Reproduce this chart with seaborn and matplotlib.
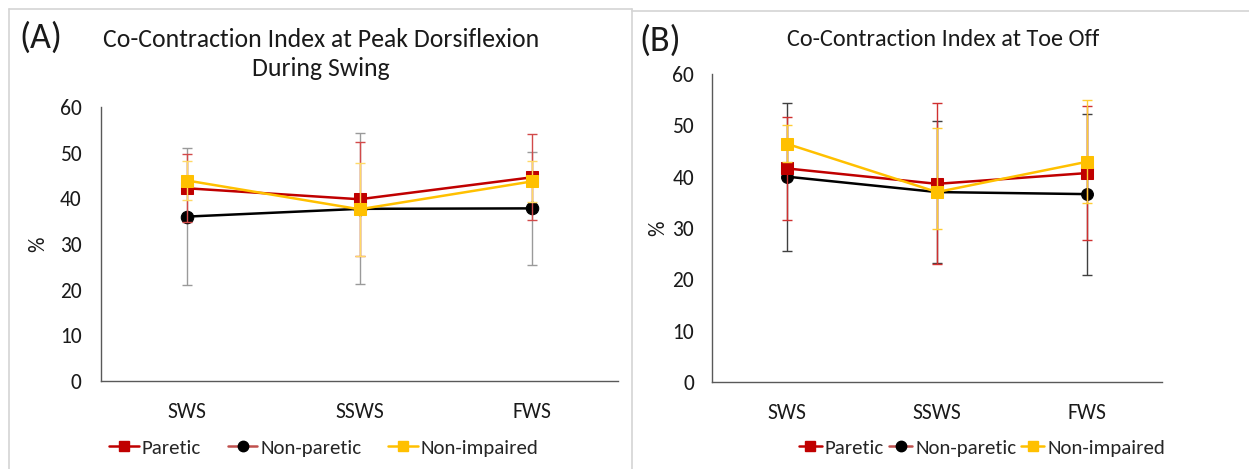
import matplotlib
matplotlib.use("Agg")
import matplotlib.pyplot as plt
from matplotlib.lines import Line2D
from matplotlib import font_manager
import seaborn as sns

# ---------------- data ----------------
categories = ["SWS", "SSWS", "FWS"]
series_names = ["Paretic", "Non-paretic", "Non-impaired"]

# Panel A: Co-Contraction Index at Peak Dorsiflexion During Swing
a_paretic = [42.2, 39.8, 44.6]
a_paretic_err = [7.4, 12.5, 9.4]
a_nonparetic = [36.0, 37.7, 37.8]
a_nonparetic_err = [15.0, 16.5, 12.3]
a_nonimpaired = [43.9, 37.6, 43.7]
a_nonimpaired_err = [4.2, 10.2, 4.5]

# Panel B: Co-Contraction Index at Toe Off
b_paretic = [41.6, 38.6, 40.7]
b_paretic_err = [10.0, 15.7, 13.0]
b_nonparetic = [40.0, 37.0, 36.6]
b_nonparetic_err = [14.4, 13.8, 15.7]
b_nonimpaired = [46.4, 37.0, 42.9]
b_nonimpaired_err_low = [3.6, 7.2, 8.1]
b_nonimpaired_err_high = [3.6, 12.5, 12.0]

yticks = [0, 10, 20, 30, 40, 50, 60]

# ---------------- style ----------------
sns.set_style("white")
avail = {f.name for f in font_manager.fontManager.ttflist}
fam = "Carlito" if "Carlito" in avail else "Lato"
plt.rcParams["font.family"] = [fam, "DejaVu Sans"]

RED = "#C00000"
BLACK = "#000000"
YELLOW = "#FFC000"
AXCOL = "#595959"
TXT = "#1a1a1a"
TICK_FS = 15.5

W, H = 1249, 469
fig = plt.figure(figsize=(W / 100, H / 100), dpi=100)
fig.patch.set_facecolor("white")


def fx(px):
    return px / W


def fy(py):
    return 1 - py / H


# panel frames
frame_col = "#d4d4d4"
fig.add_artist(Line2D([fx(9), fx(632)], [fy(9), fy(9)], color=frame_col, lw=1.2))
fig.add_artist(Line2D([fx(9), fx(9)], [fy(9), fy(470)], color=frame_col, lw=1.2))
fig.add_artist(Line2D([fx(632), fx(632)], [fy(9), fy(470)], color=frame_col, lw=1.2))
fig.add_artist(Line2D([fx(632), fx(1250)], [fy(11), fy(11)], color=frame_col, lw=1.2))

axA = fig.add_axes([fx(101), fy(381), fx(618) - fx(101), fy(107) - fy(381)])
axB = fig.add_axes([fx(712), fy(382), fx(1162) - fx(712), fy(74) - fy(382)])


def draw_panel(ax, data, ypad, xpad):
    xs = list(range(len(categories)))
    for (vals, lo, hi, color, marker, ms, ecol, z) in data:
        ax.errorbar(xs, vals, yerr=[lo, hi], fmt="none", ecolor=ecol,
                    elinewidth=1.0, capsize=3.5, capthick=1.0, zorder=z - 1)
    for (vals, lo, hi, color, marker, ms, ecol, z) in data:
        sns.lineplot(x=categories, y=vals, ax=ax, color=color, marker=marker,
                     markersize=ms, markeredgecolor=color, markerfacecolor=color,
                     linewidth=1.8, zorder=z, legend=False, sort=False)
    ax.set_xlim(-0.5, len(categories) - 0.5)
    ax.set_ylim(0, 60)
    ax.set_yticks(yticks)
    ax.set_yticklabels([str(t) for t in yticks])
    ax.tick_params(axis="y", length=0, pad=ypad, labelsize=TICK_FS, colors=TXT)
    ax.tick_params(axis="x", length=0, pad=xpad, labelsize=TICK_FS, colors=TXT)
    for s in ["top", "right"]:
        ax.spines[s].set_visible(False)
    for s in ["left", "bottom"]:
        ax.spines[s].set_color(AXCOL)
        ax.spines[s].set_linewidth(1.0)
    ax.set_xlabel("")
    ax.set_ylabel("%", fontsize=TICK_FS, color=TXT)
    ax.grid(False)
    ax.set_facecolor("white")


dataA = [
    (a_nonparetic, a_nonparetic_err, a_nonparetic_err, BLACK, "o", 9, "#9a9a9a", 4),
    (a_paretic, a_paretic_err, a_paretic_err, RED, "s", 8, "#d24a4a", 6),
    (a_nonimpaired, a_nonimpaired_err, a_nonimpaired_err, YELLOW, "s", 8, "#ffd966", 8),
]
dataB = [
    (b_nonparetic, b_nonparetic_err, b_nonparetic_err, BLACK, "o", 8.5, "#404040", 4),
    (b_paretic, b_paretic_err, b_paretic_err, RED, "s", 8, "#d03030", 6),
    (b_nonimpaired, b_nonimpaired_err_low, b_nonimpaired_err_high, YELLOW, "s", 8, "#ffcc33", 8),
]

draw_panel(axA, dataA, 14, 15)
draw_panel(axB, dataB, 13, 15)
axA.yaxis.set_label_coords((48 - 101) / 517, 0.5)
axB.yaxis.set_label_coords((668 - 712) / 450, 0.5)

# titles
fig.text(fx(19), fy(38), "(A)", fontsize=26, ha="left", va="center", color=TXT)
fig.text(fx(321), fy(54), "Co-Contraction Index at Peak Dorsiflexion\nDuring Swing",
         fontsize=18.5, ha="center", va="center", linespacing=1.35, color=TXT)
fig.text(fx(639), fy(41), "(B)", fontsize=26, ha="left", va="center", color=TXT)
fig.text(fx(943), fy(40), "Co-Contraction Index at Toe Off",
         fontsize=17.5, ha="center", va="center", color=TXT)

# legends
handles = [
    Line2D([], [], color=RED, marker="s", markersize=7.5, markerfacecolor=RED,
           markeredgecolor=RED, lw=1.8),
    Line2D([], [], color="#c0504d", marker="o", markersize=7.5, markerfacecolor=BLACK,
           markeredgecolor=BLACK, lw=1.8),
    Line2D([], [], color=YELLOW, marker="s", markersize=7.5, markerfacecolor=YELLOW,
           markeredgecolor=YELLOW, lw=1.8),
]
for cx, spacing, hl in [(324, 1.3, 1.4), (982, 0.25, 1.1)]:
    fig.legend(handles, series_names, loc="center", bbox_to_anchor=(fx(cx), fy(448)),
               ncol=3, frameon=False, fontsize=15, handlelength=hl,
               handletextpad=0.15, columnspacing=spacing)

fig.savefig("out.png", dpi=100, facecolor="white")
